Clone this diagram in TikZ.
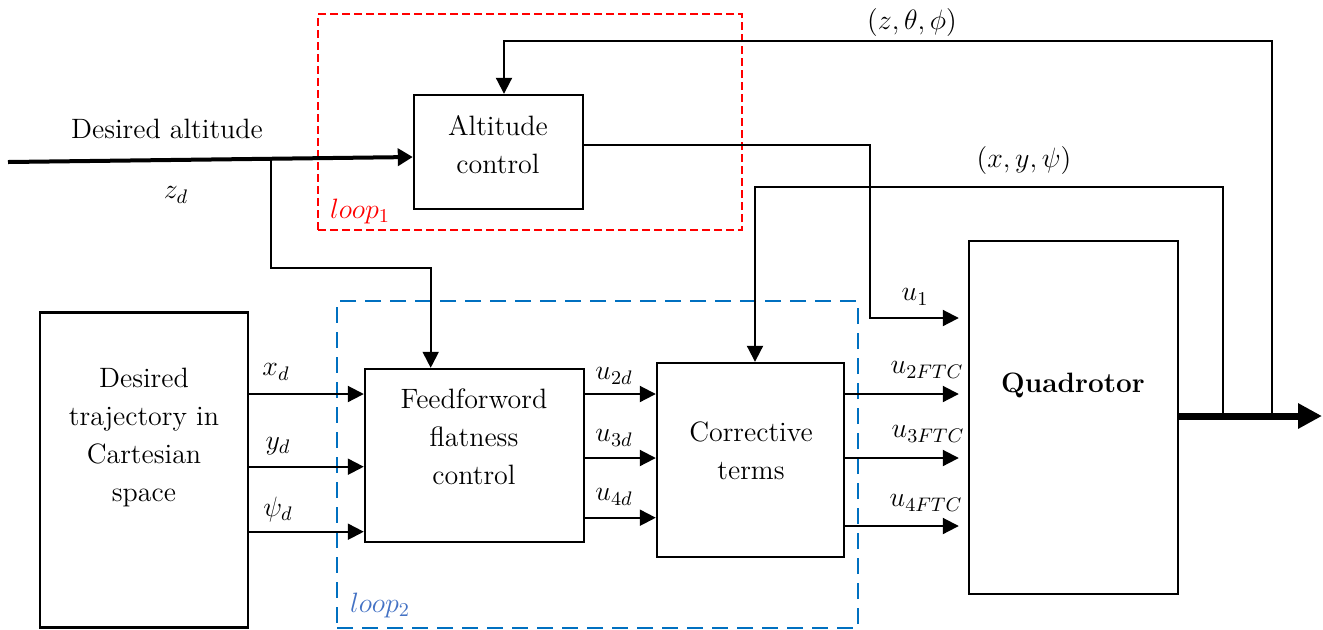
\documentclass[tikz,border=0pt]{standalone}
\usepackage{fix-cm}
\usepackage{fontspec}
\usetikzlibrary{arrows.meta}
\definecolor{loopred}{RGB}{255,0,0}
\definecolor{loopblue}{RGB}{0,112,192}
\definecolor{labblue}{RGB}{68,114,196}
\begin{document}
\begin{tikzpicture}[x=0.5pt,y=-0.5pt,
  font=\fontsize{14}{19}\selectfont,
  blk/.style={draw, line width=1.2pt, inner sep=0pt},
  txt/.style={align=center, inner sep=0pt},
  lab/.style={inner sep=0pt},
  conn/.style={line width=1pt, -{Triangle[length=8pt,width=8pt]}},
  frameone/.style={draw=loopred, dash pattern=on 4pt off 2pt, line width=1pt, inner sep=0pt},
  frametwo/.style={draw=loopblue, dash pattern=on 8pt off 4.5pt, line width=1pt, inner sep=0pt}]
\useasboundingbox (0,0) rectangle (1323,629);

% dashed loop frames
\node[frameone, minimum width=212pt, minimum height=108pt] (loopone) at (530,122) {};
\node[frametwo, minimum width=260.5pt, minimum height=163.5pt] (looptwo) at (597.5,464.5) {};

% blocks
\node[blk, minimum width=84.5pt, minimum height=57pt] (alt) at (498.5,152) {};
\node[txt] (altT) at (498,145) {Altitude\\control};
\node[blk, minimum width=104pt, minimum height=157.5pt] (traj) at (144,470) {};
\node[txt] (trajT) at (144,437) {Desired\\trajectory in\\Cartesian\\space};
\node[blk, minimum width=109.5pt, minimum height=86.5pt] (ff) at (474.5,455.5) {};
\node[txt] (ffT) at (474,437) {Feedforword\\flatness\\control};
\node[blk, minimum width=93.5pt, minimum height=97pt] (cor) at (750.5,460) {};
\node[txt] (corT) at (751,451) {Corrective\\terms};
\node[blk, minimum width=104.5pt, minimum height=176.5pt] (quad) at (1073.5,417.5) {};
\node[txt, font=\fontsize{14}{19}\selectfont\bfseries] (quadT) at (1073,385) {Quadrotor};

% row references
\coordinate (ya) at (0,394);
\coordinate (yb) at (0,466.7);
\coordinate (yc) at (0,531.7);
\coordinate (va) at (0,394);
\coordinate (vb) at (0,458);
\coordinate (vc) at (0,517.7);
\coordinate (wa) at (0,394);
\coordinate (wb) at (0,458);
\coordinate (wc) at (0,526);
\coordinate (yu1) at (0,318);
\coordinate (yo) at (0,416);

% desired altitude input
\coordinate (src) at (8,162);
\draw[line width=2pt, -{Triangle[length=7.5pt,width=8.5pt]}] (src) -- ([yshift=-2.5pt]alt.west);
\coordinate (br) at (270.7,159);
\coordinate (brk) at (430.7,267.7);
\draw[conn] (br) |- (brk) -- (brk |- ff.north);

% altitude control output u1
\coordinate (ak) at (870,145);
\draw[conn, shorten >=4.5pt] ([yshift=3.5pt]alt.east) -- (ak) |- (quad.west |- yu1);

% trajectory -> feedforward
\draw[conn] (traj.east |- ya) -- (ff.west |- ya);
\draw[conn] (traj.east |- yb) -- (ff.west |- yb);
\draw[conn] (traj.east |- yc) -- (ff.west |- yc);

% feedforward -> corrective
\draw[conn] (ff.east |- va) -- (cor.west |- va);
\draw[conn] (ff.east |- vb) -- (cor.west |- vb);
\draw[conn] (ff.east |- vc) -- (cor.west |- vc);

% corrective -> quadrotor
\draw[conn, shorten >=4.5pt] (cor.east |- wa) -- (quad.west |- wa);
\draw[conn, shorten >=4.5pt] (cor.east |- wb) -- (quad.west |- wb);
\draw[conn, shorten >=4.5pt] (cor.east |- wc) -- (quad.west |- wc);

% output
\coordinate (outend) at (1322,416);
\draw[line width=3.5pt, -{Triangle[length=12pt,width=12pt]}] (quad.east |- yo) -- (outend);

% feedback loops
\coordinate (fa) at (1272,416);
\coordinate (fz) at (504,41);
\draw[conn] (fa) |- (fz) -- (fz |- alt.north);
\coordinate (fb) at (1223,416);
\coordinate (fx) at (755,187);
\draw[conn] (fb) |- (fx) -- (fx |- cor.north);

% labels
\node[lab] (lalt) at (167,129) {Desired altitude};
\node[lab] (lzd) at (176,195) {$z_d$};
\node[lab] (lxd) at (276,372) {$x_d$};
\node[lab] (lyd) at (278,446) {$y_d$};
\node[lab] (lpd) at (278,509) {$\psi_d$};
\node[lab] (l2d) at (614,376) {$u_{2d}$};
\node[lab] (l3d) at (614,438) {$u_{3d}$};
\node[lab] (l4d) at (614,497) {$u_{4d}$};
\node[lab] (l1) at (915,297) {$u_1$};
\node[lab] (l2f) at (927,370) {$u_{2FTC}$};
\node[lab] (l3f) at (928,434) {$u_{3FTC}$};
\node[lab] (l4f) at (926,503) {$u_{4FTC}$};
\node[lab] (lzt) at (912,22) {$(z,\theta,\phi)$};
\node[lab] (lxy) at (1024,160) {$(x,y,\psi)$};
\node[lab, text=loopred] (lp1) at (360,211) {$loop_1$};
\node[lab, text=labblue] (lp2) at (380,605) {$loop_2$};
\end{tikzpicture}
\end{document}
